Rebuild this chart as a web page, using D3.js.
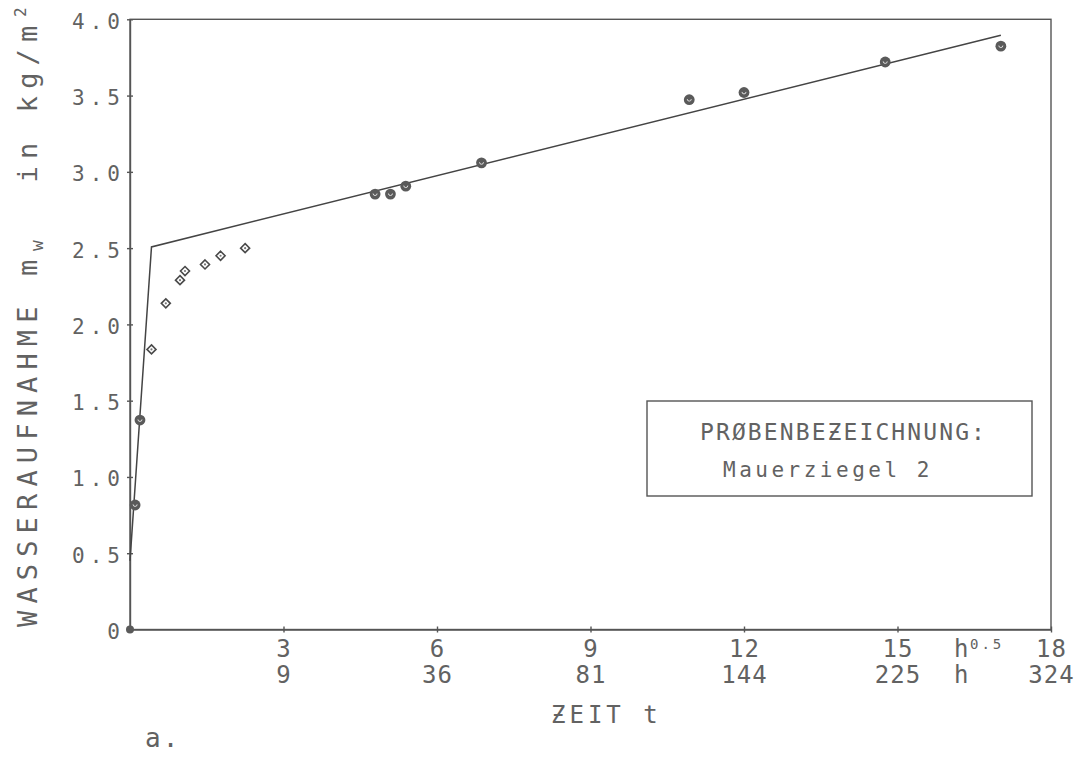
<!DOCTYPE html>
<html><head><meta charset="utf-8">
<script src="https://cdn.jsdelivr.net/npm/d3@7"></script>
<style>
body{margin:0;background:#fff}
svg{display:block}
text{font-family:"DejaVu Sans Mono","Liberation Mono",monospace;fill:#626262}
</style>
</head><body>
<svg id="chart" width="1085" height="757"></svg>
<script>
// Measured water uptake, sample "Mauerziegel 2" (time axis in sqrt(h))
const circleT = [0, 0.10, 0.195, 4.79, 5.09, 5.39, 6.87, 10.93, 12.0, 14.76, 17.02];
const circleM = [0, 0.816, 1.373, 2.854, 2.854, 2.906, 3.059, 3.473, 3.52, 3.72, 3.824];
const diamondT = [0.42, 0.70, 0.977, 1.075, 1.466, 1.77, 2.25];
const diamondM = [1.836, 2.138, 2.29, 2.35, 2.393, 2.45, 2.50];
// bilinear approximation
const fitT = [0, 0.42, 17.02];
const fitM = [0.45, 2.508, 3.896];

const yTicks = [0, 0.5, 1.0, 1.5, 2.0, 2.5, 3.0, 3.5, 4.0];
const yTickLabels = ["0", "0.5", "1.0", "1.5", "2.0", "2.5", "3.0", "3.5", "4.0"];
const xTicks = [3, 6, 9, 12, 15, 18];
const xTickLabels = ["3", "6", "9", "12", "15", "18"];
const xTickLabelsHours = ["9", "36", "81", "144", "225", "324"];

const svg = d3.select("#chart");
const ink = "#555";

const x = d3.scaleLinear().domain([0, 18]).range([130, 1051]);
const y = d3.scaleLinear().domain([0, 4]).range([629.5, 19.3]);

// frame
svg.append("rect")
  .attr("x", x(0)).attr("y", y(4))
  .attr("width", x(18) - x(0)).attr("height", y(0) - y(4))
  .attr("fill", "none").attr("stroke", ink).attr("stroke-width", 1.4);

// axes (tick marks only, labels drawn separately)
const gx = svg.append("g").attr("transform", `translate(0,${y(0)})`)
  .call(d3.axisBottom(x).tickValues(xTicks).tickSizeInner(3).tickSizeOuter(0).tickFormat(""));
gx.selectAll("line").attr("y1", -3).attr("y2", 3);
const gy = svg.append("g").attr("transform", `translate(${x(0)},0)`)
  .call(d3.axisLeft(y).tickValues(yTicks).tickSizeInner(3).tickSizeOuter(0).tickFormat(""));
gy.selectAll("line").attr("x1", 3).attr("x2", -3);
[gx, gy].forEach(g => {
  g.selectAll("path,line").attr("stroke", ink).attr("stroke-width", 1.4);
});

// y tick labels
const yls = 5;
svg.append("g").selectAll("text").data(yTicks).join("text")
  .attr("x", 120 + yls).attr("y", d => y(d) + 9.5)
  .attr("text-anchor", "end")
  .style("font-size", "21px").style("letter-spacing", yls + "px")
  .text((d, i) => yTickLabels[i]);

// x tick labels: sqrt(h) and h
const xls = 1;
svg.append("g").selectAll("text").data(xTicks).join("text")
  .attr("x", d => x(d) + xls / 2).attr("y", 657)
  .attr("text-anchor", "middle")
  .style("font-size", "24px").style("letter-spacing", xls + "px")
  .text((d, i) => xTickLabels[i]);
svg.append("g").selectAll("text").data(xTicks).join("text")
  .attr("x", d => x(d) + xls / 2).attr("y", 683)
  .attr("text-anchor", "middle")
  .style("font-size", "24px").style("letter-spacing", xls + "px")
  .text((d, i) => xTickLabelsHours[i]);

// unit markers
svg.append("text").attr("x", 954).attr("y", 657).style("font-size", "24px").text("h");
svg.append("text").attr("x", 970).attr("y", 649).style("font-size", "14px")
  .style("letter-spacing", "3px").text("0.5");
svg.append("text").attr("x", 954).attr("y", 683).style("font-size", "24px").text("h");

// axis titles
svg.append("text").attr("x", 551).attr("y", 723)
  .style("font-size", "24px").style("letter-spacing", "4px").text("ƵEIT t");

const yt = svg.append("text").attr("transform", "translate(37,627) rotate(-90)")
  .style("font-size", "27px");
yt.append("tspan").attr("x", 0).style("letter-spacing", "7.15px").text("WASSERAUFNAHME m");
yt.append("tspan").attr("x", 376).attr("dy", 6).style("font-size", "18px").text("w");
yt.append("tspan").attr("x", 444.6).attr("dy", -6).style("letter-spacing", "7.15px").text("in");
yt.append("tspan").attr("x", 514.8).style("letter-spacing", "7.15px").text("kg/m");
yt.append("tspan").attr("x", 610).attr("dy", -11).style("font-size", "16px").text("2");

svg.append("text").attr("x", 145).attr("y", 747).style("font-size", "26px")
  .style("letter-spacing", "2px").text("a.");

// legend box
svg.append("rect").attr("x", 647).attr("y", 401).attr("width", 385).attr("height", 95)
  .attr("fill", "none").attr("stroke", ink).attr("stroke-width", 1.4);
svg.append("text").attr("x", 700).attr("y", 440).style("font-size", "23px")
  .style("letter-spacing", "2.1px").text("PRØBENBEƵEICHNUNG:");
svg.append("text").attr("x", 723).attr("y", 477).style("font-size", "21px")
  .style("letter-spacing", "3.5px").text("Mauerziegel 2");

// fitted line
const line = d3.line().x(d => x(d[0])).y(d => y(d[1]));
svg.append("path").datum(d3.zip(fitT, fitM)).attr("d", line)
  .attr("fill", "none").attr("stroke", "#444").attr("stroke-width", 1.5);

// diamond markers
const dg = svg.append("g").selectAll("g").data(d3.zip(diamondT, diamondM)).join("g")
  .attr("transform", d => `translate(${x(d[0])},${y(d[1])})`);
dg.append("path").attr("d", "M0,-4.5L4.5,0L0,4.5L-4.5,0Z")
  .attr("fill", "#fff").attr("stroke", "#4a4a4a").attr("stroke-width", 1.6);
dg.append("circle").attr("r", 1.1).attr("fill", "#777");

// circle markers
const cg = svg.append("g").selectAll("g").data(d3.zip(circleT, circleM)).join("g")
  .attr("transform", d => `translate(${x(d[0])},${y(d[1])})`);
cg.append("circle").attr("r", (d, i) => i === 0 ? 4 : 5.4).attr("fill", "#5a5a5a");
cg.filter((d, i) => i > 0).append("path").attr("d", "M-2,-0.6A2,2 0 0 0 2,-0.6")
  .attr("fill", "none").attr("stroke", "#ddd").attr("stroke-width", 1);
</script>
</body></html>
